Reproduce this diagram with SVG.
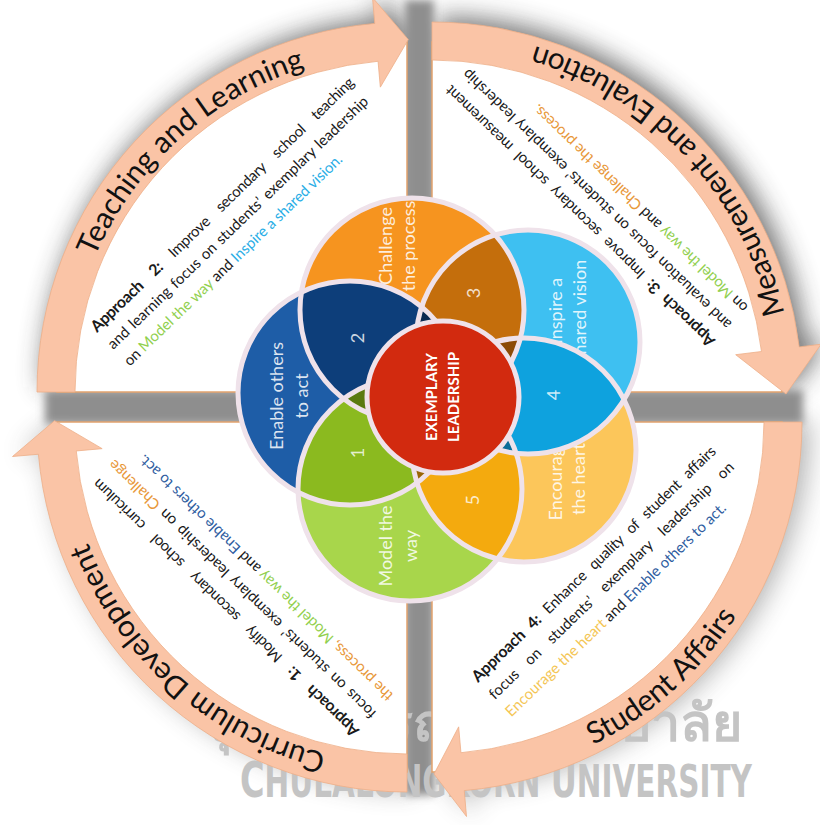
<svg xmlns="http://www.w3.org/2000/svg" width="820" height="825" viewBox="0 0 820 825">
<defs>
<style>
.band{fill:#FAC4A6;stroke:#EDAE88;stroke-width:0.8}
.panel{fill:#fff;stroke:#E2A36E;stroke-width:1.5}
.title{font-family:Lato,'Liberation Sans',sans-serif;font-size:30px;fill:#111}
.body{font-family:Lato,'Liberation Sans',sans-serif;font-size:15px;fill:#1a1a1a}
.b{font-weight:bold;font-size:16px}
.g{fill:#92D050}.c{fill:#2AAEE6}.o{fill:#E8983A}.n{fill:#2F5D9F}.y{fill:#F4C655}
.lab{font-family:Lato,'Liberation Sans',sans-serif;font-size:18px;fill:#fff;fill-opacity:0.85;text-anchor:middle}
.num{font-family:Lato,'Liberation Sans',sans-serif;font-size:18px;fill:#fff;fill-opacity:0.8;text-anchor:middle}
.ol{fill:none;stroke:#EFE2EA;stroke-width:5}
.sh{fill:#3a3a3a}
.wm{font-weight:bold;fill:#c4c4c4}
</style>
<filter id="blur" x="-20%" y="-20%" width="140%" height="140%"><feGaussianBlur stdDeviation="13"/></filter>
<filter id="blur2" x="-20%" y="-20%" width="140%" height="140%"><feGaussianBlur stdDeviation="4"/></filter>
<circle id="cB" cx="350" cy="393" r="112"/>
<circle id="cO" cx="412" cy="310" r="112"/>
<circle id="cC" cx="528" cy="342" r="112"/>
<circle id="cY" cx="524" cy="450" r="112"/>
<circle id="cG" cx="410" cy="489" r="112"/>
<clipPath id="kB"><circle cx="350" cy="393" r="112"/></clipPath>
<clipPath id="kO"><circle cx="412" cy="310" r="112"/></clipPath>
<clipPath id="kC"><circle cx="528" cy="342" r="112"/></clipPath>
<clipPath id="kY"><circle cx="524" cy="450" r="112"/></clipPath>
<clipPath id="kG"><circle cx="410" cy="489" r="112"/></clipPath>
<path id="bTL" d="M37,392 A370,370 0 0 1 374.75,23.41 L372.49,-2.49 L408.3,39.6 L380.33,87.17 L378.06,61.26 A332,332 0 0 0 75,392 Z"/>
<path id="bTR" d="M432,22 A370,370 0 0 1 799.24,346.91 L821.1,344.2 L786,394 L735.7,354.7 L761.5,351.5 A332,332 0 0 0 432,60 Z"/>
<path id="bBL" d="M407,792 A370,370 0 0 1 38.41,454.25 L12.51,456.51 L54.55,420.7 L102.17,448.67 L76.26,450.94 A332,332 0 0 0 407,754 Z"/>
<path id="bBR" d="M802,422 A370,370 0 0 1 464.25,790.59 L466.5,816.5 L434,774 L458.67,726.83 L460.94,752.74 A332,332 0 0 0 764,422 Z"/>
<path id="pTL" d="M407,392 L57,392 A350,350 0 0 1 407,42 Z"/>
<path id="pTR" d="M432,392 L432,42 A350,350 0 0 1 782,392 Z"/>
<path id="pBL" d="M407,422 L407,772 A350,350 0 0 1 57,422 Z"/>
<path id="pBR" d="M432,422 L782,422 A350,350 0 0 1 432,772 Z"/>
<path id="tTL" d="M67,392 A340,340 0 0 1 407,52"/>
<path id="tTR" d="M793,392 A361,361 0 0 0 432,31"/>
<path id="tBL" d="M407,763 A341,341 0 0 1 66,422"/>
<path id="tBR" d="M432,783 A361,361 0 0 0 793,422"/>
</defs>

<rect width="820" height="825" fill="#fff"/>

<!-- shadows -->
<g id="shadow">
  <g filter="url(#blur)" opacity="0.72" transform="translate(6,-5)">
    <use href="#bTL" class="sh"/><use href="#pTL" class="sh"/>
    <use href="#bTR" class="sh"/><use href="#pTR" class="sh"/>
  </g>
  <g filter="url(#blur)" opacity="0.38" transform="translate(8,-2)">
    <use href="#bBL" class="sh"/><use href="#pBL" class="sh"/>
    <use href="#bBR" class="sh"/><use href="#pBR" class="sh"/>
  </g>
  <g filter="url(#blur2)" fill="#8e8e8e">
    <rect x="405" y="0" width="29" height="795"/>
    <rect x="45" y="390" width="758" height="34"/>
  </g>
</g>

<!-- watermark (behind panels) -->
<g id="watermark">
  <text x="742" y="741" text-anchor="end" font-family="'Noto Sans','DejaVu Sans',sans-serif" font-size="52" class="wm">จุฬาลงกรณ์มหาวิทยาลัย</text>
  <text x="496" y="797" text-anchor="middle" font-family="'DejaVu Sans Condensed','DejaVu Sans',sans-serif" font-size="44" textLength="512" lengthAdjust="spacingAndGlyphs" class="wm"><tspan font-size="50">C</tspan>HULALONGKORN <tspan font-size="48">U</tspan>NIVERSITY</text>
</g>

<!-- quadrants -->
<g id="q-teaching">
  <use href="#pTL" class="panel"/>
  <use href="#bTL" class="band"/>
  <text class="title"><textPath href="#tTL" startOffset="53.3%" text-anchor="middle">Teaching and Learning</textPath></text>
  <g transform="translate(97,333) rotate(-44)" class="body">
    <text x="0" y="0" word-spacing="11" textLength="359"><tspan class="b">Approach 2:</tspan> Improve secondary school teaching</text>
    <text x="0" y="23.5" word-spacing="1.5" textLength="356">and learning focus on students’ exemplary leadership</text>
    <text x="0" y="47" textLength="297">on <tspan class="g">Model the way</tspan> and <tspan class="c">Inspire a shared vision.</tspan></text>
  </g>
</g>

<g id="q-measurement">
  <use href="#pTR" class="panel"/>
  <use href="#bTR" class="band"/>
  <text class="title"><textPath href="#tTR" startOffset="47.8%" text-anchor="middle">Measurement and Evaluation</textPath></text>
  <g transform="translate(716,340) rotate(-136)" class="body">
    <text x="0" y="0" word-spacing="5" textLength="368"><tspan class="b">Approach 3:</tspan> Improve secondary school measurement</text>
    <text x="0" y="23.5" word-spacing="1" textLength="367">and evaluation focus on students’ exemplary leadership</text>
    <text x="0" y="47" textLength="292">on <tspan class="g">Model the way</tspan> and <tspan class="o">Challenge the process.</tspan></text>
  </g>
</g>

<g id="q-curriculum">
  <use href="#pBL" class="panel"/>
  <use href="#bBL" class="band"/>
  <text class="title"><textPath href="#tBL" startOffset="46.1%" text-anchor="middle">Curriculum Development</textPath></text>
  <g transform="translate(360,730) rotate(-136)" class="body">
    <text x="0" y="0" word-spacing="10.7" textLength="363"><tspan class="b">Approach 1:</tspan> Modify secondary school curriculum</text>
    <text x="0" y="24.5" word-spacing="2.5" textLength="365">focus on students’ exemplary leadership on <tspan class="o">Challenge</tspan></text>
    <text x="0" y="49" textLength="347"><tspan class="o">the process,</tspan> <tspan class="g">Model the way</tspan> and <tspan class="n">Enable others to act.</tspan></text>
  </g>
</g>

<g id="q-student">
  <use href="#pBR" class="panel"/>
  <use href="#bBR" class="band"/>
  <text class="title"><textPath href="#tBR" startOffset="46.7%" text-anchor="middle">Student Affairs</textPath></text>
  <g transform="translate(478,683) rotate(-44)" class="body">
    <text x="0" y="0" word-spacing="5.6" textLength="332"><tspan class="b">Approach 4:</tspan> Enhance quality of student affairs</text>
    <text x="0" y="24" word-spacing="10" textLength="334">focus on students’ exemplary leadership on</text>
    <text x="0" y="48" textLength="300"><tspan class="y">Encourage the heart</tspan> and <tspan class="n">Enable others to act.</tspan></text>
  </g>
</g>

<!-- Venn -->
<g id="venn">
  <g id="circle-fills">
    <use href="#cB" fill="#1E5DA7"/>
    <use href="#cO" fill="#F6941F"/>
    <use href="#cC" fill="#3EC0F1"/>
    <use href="#cY" fill="#FCC65A"/>
    <use href="#cG" fill="#A8D64B"/>
  </g>
  <g id="node-enable"><text class="lab" transform="translate(283,396) rotate(-90)"><tspan x="0" y="0">Enable others</tspan><tspan x="0" y="25">to act</tspan></text></g>
  <g id="node-challenge"><text class="lab" transform="translate(392,246) rotate(-90)"><tspan x="0" y="0">Challenge</tspan><tspan x="0" y="23">the process</tspan></text></g>
  <g id="node-inspire"><text class="lab" transform="translate(562,311) rotate(-90)"><tspan x="0" y="0">Inspire a</tspan><tspan x="0" y="24">shared vision</tspan></text></g>
  <g id="node-encourage"><text class="lab" transform="translate(562,479) rotate(-90)"><tspan x="0" y="0">Encourage</tspan><tspan x="0" y="23">the heart</tspan></text></g>
  <g id="node-model"><text class="lab" transform="translate(392,546) rotate(-90)"><tspan x="0" y="0">Model the</tspan><tspan x="0" y="25">way</tspan></text></g>
  <g id="lenses">
    <use href="#cO" fill="#0D3E7A" clip-path="url(#kB)"/>
    <use href="#cC" fill="#C46E0C" clip-path="url(#kO)"/>
    <use href="#cY" fill="#0EA2DE" clip-path="url(#kC)"/>
    <use href="#cG" fill="#F4AA0E" clip-path="url(#kY)"/>
    <use href="#cB" fill="#8BBA1F" clip-path="url(#kG)"/>
  </g>
  <g id="triples">
    <g clip-path="url(#kB)"><use href="#cO" fill="#5A7A10" clip-path="url(#kG)"/></g>
    <g clip-path="url(#kO)"><use href="#cC" fill="#0A2A52" clip-path="url(#kB)"/></g>
    <g clip-path="url(#kC)"><use href="#cY" fill="#8C4B06" clip-path="url(#kO)"/></g>
    <g clip-path="url(#kY)"><use href="#cG" fill="#0A6C98" clip-path="url(#kC)"/></g>
    <g clip-path="url(#kG)"><use href="#cB" fill="#9A6506" clip-path="url(#kY)"/></g>
  </g>
  <g id="outlines">
    <use href="#cB" class="ol"/><use href="#cO" class="ol"/><use href="#cC" class="ol"/><use href="#cY" class="ol"/><use href="#cG" class="ol"/>
  </g>
  <g id="numbers">
    <text class="num" transform="translate(363.5,453) rotate(-90)">1</text>
    <text class="num" transform="translate(363.5,338) rotate(-90)">2</text>
    <text class="num" transform="translate(479.5,293) rotate(-90)">3</text>
    <text class="num" transform="translate(559.5,395) rotate(-90)">4</text>
    <text class="num" transform="translate(478.5,500) rotate(-90)">5</text>
  </g>
  <g id="node-exemplary">
    <circle cx="443" cy="397" r="76" fill="#D22A0F" stroke="#EFE2EA" stroke-width="5"/>
    <text transform="translate(443,397) rotate(-90)" text-anchor="middle" font-family="Lato,'Liberation Sans',sans-serif" font-weight="bold" font-size="15" fill="#fff"><tspan x="0" y="-6">EXEMPLARY</tspan><tspan x="0" y="15.7">LEADERSHIP</tspan></text>
  </g>
</g>
</svg>
